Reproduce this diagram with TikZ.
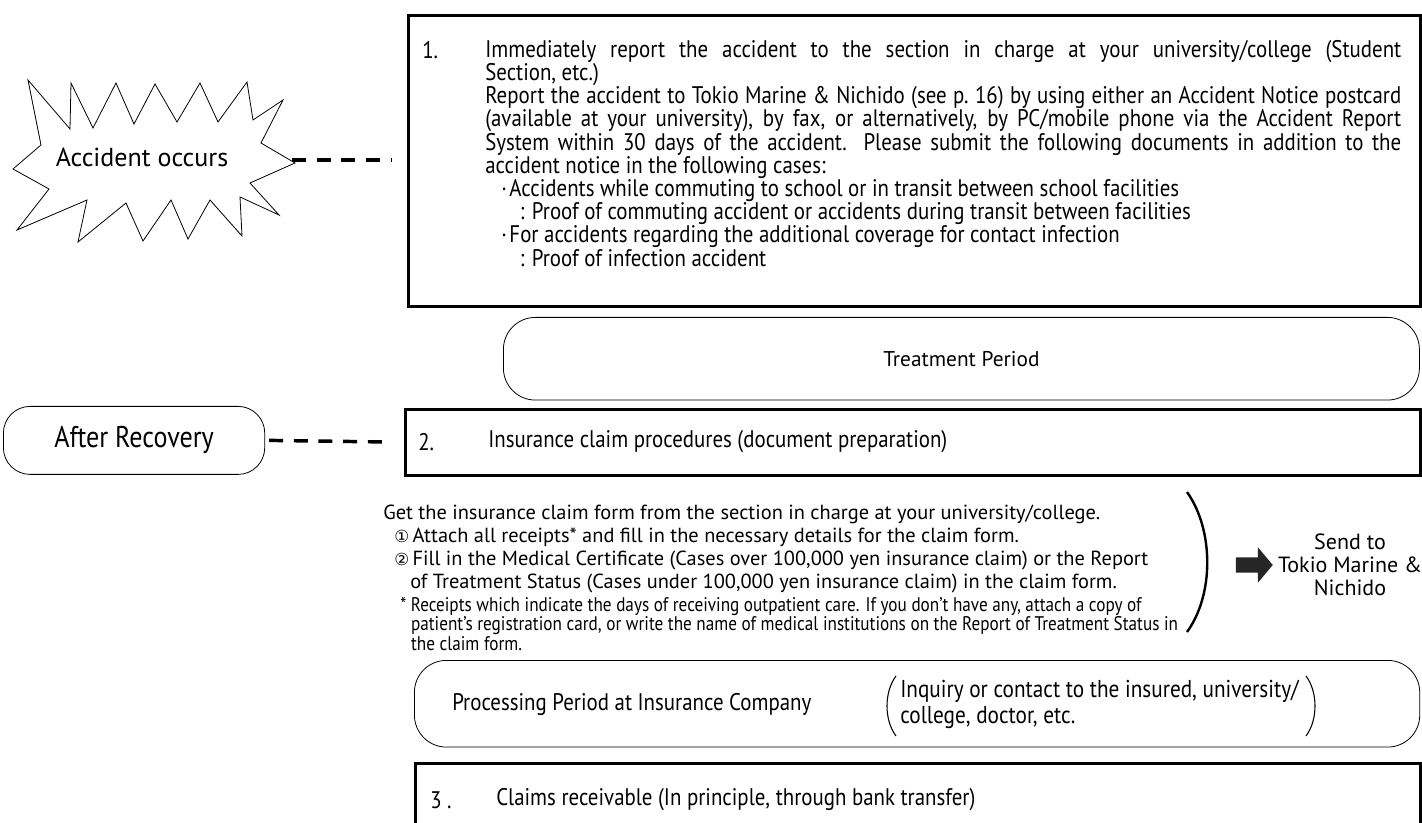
\documentclass[tikz,border=0pt]{standalone}
\usepackage{fontspec}
\setmainfont{PT Sans}
\newfontfamily\condfont[FakeStretch=0.87]{PT Sans}
\newfontfamily\symfont{DejaVu Sans}
\usetikzlibrary{positioning,shapes.arrows}

\begin{document}
\begin{tikzpicture}[x=0.75pt,y=-0.75pt]
	\tikzstyle{every node}=[inner sep=0pt]
	\tikzstyle{stepframe}=[draw,line width=2.2pt,anchor=north west]
	\tikzstyle{period}=[draw,line width=0.6pt,rounded corners=24pt,anchor=north west]
	\tikzstyle{link}=[line width=2.6pt,dash pattern=on 10.5pt off 8pt]
	\tikzstyle{cond}=[font=\condfont\fontsize{18}{17.4}\selectfont]
	\tikzstyle{plain}=[font=\fontsize{15.3}{17.25}\selectfont]
	\tikzstyle{small}=[font=\condfont\fontsize{14.8}{13.5}\selectfont]

	\useasboundingbox (0,0) rectangle (1422,823);

	% accident
	\draw[line width=0.6pt] (28,80) -- (70,129) -- (71,83) -- (93,128) -- (116,83) -- (134,124)
		-- (155,84) -- (177,122) -- (200,83) -- (218,122) -- (247,82) -- (253,120) -- (283,100)
		-- (261,143) -- (295,163) -- (250,183) -- (279,215) -- (240,197) -- (242,236) -- (210,200)
		-- (188,239) -- (171,200) -- (143,241) -- (126,203) -- (78,242) -- (87,200) -- (17,230)
		-- (49,189) -- (13,169) -- (41,145) -- cycle;
	\node (accident) [font=\fontsize{19.5}{19.5}\selectfont] at (142,157) {Accident occurs};
	\coordinate (tip) at (292,160);
	\coordinate (gap1) at (392,160);
	\draw[link] (tip) -- (gap1);

	% step 1
	\node (box1) [stepframe,minimum width=759pt,minimum height=218pt] at (407,14) {};
	\node (num1) [cond,anchor=west] at (422,50) {1.};
	\node (text1) [cond,anchor=north west,text width=687pt,align=justify] at (485,40)
		{Immediately report the accident to the section in charge at your university/college (Student\linebreak
		Section, etc.)\\
		Report the accident to Tokio Marine \& Nichido (see p.~16) by using either an Accident Notice postcard\linebreak
		(available at your university), by fax, or alternatively, by PC/mobile phone via the Accident Report\linebreak
		System within 30 days of the accident. Please submit the following documents in addition to the\linebreak
		accident notice in the following cases:\\
		\hspace*{12pt}{·}\hspace{2pt}Accidents while commuting to school or in transit between school facilities\\
		\hspace*{26pt}: Proof of commuting accident or accidents during transit between facilities\\
		\hspace*{12pt}{·}\hspace{2pt}For accidents regarding the additional coverage for contact infection\\
		\hspace*{26pt}: Proof of infection accident};

	% treatment
	\node (treat) [period,minimum width=687pt,minimum height=62pt] at (503,317) {};
	\node (treattext) [font=\fontsize{16}{16}\selectfont] at (treat.center) {Treatment Period};

	% step 2
	\node (recovery) [period,rounded corners=20pt,minimum width=196pt,minimum height=51pt] at (3,406) {};
	\node (recoverytext) [font=\condfont\fontsize{22.5}{22.5}\selectfont] at (recovery.center) {After Recovery};
	\coordinate (gap2) at (388,442);
	\draw[link] ([xshift=3pt]recovery.east) -- (gap2);
	\node (box2) [stepframe,minimum width=761pt,minimum height=49.5pt] at (404,408) {};
	\node (num2) [cond,anchor=west] at (418,442) {2.};
	\node (text2) [cond,anchor=west] at (488,442) {Insurance claim procedures (document preparation)};

	% claim form
	\node (get) [plain,anchor=west] at (383,514) {Get the insurance claim form from the section in charge at your university/college.};
	\node (item1) [plain,anchor=west] at (394,537) {{\symfont\fontsize{12.5}{12.5}\selectfont ①}\,Attach all receipts* and fill in the necessary details for the claim form.};
	\node (item2) [plain,anchor=west] at (394,560) {{\symfont\fontsize{12.5}{12.5}\selectfont ②}\,Fill in the Medical Certificate (Cases over 100,000 yen insurance claim) or the Report};
	\node (item2b) [plain,anchor=west] at (410,583) {of Treatment Status (Cases under 100,000 yen insurance claim) in the claim form.};
	\node (note) [small,anchor=north west,align=left] at (400,597)
		{* Receipts which indicate the days of receiving outpatient care. If you don’t have any, attach a copy of\\
		\hspace*{0.55em}patient’s registration card, or write the name of medical institutions on the Report of Treatment Status in\\
		\hspace*{0.55em}the claim form.};
	\draw[line width=1.8pt] (1187,492) .. controls (1214,530) and (1214,595) .. (1187,632);

	% send
	\node (send) [single arrow,fill=black!85,inner xsep=0pt,inner ysep=5.6pt,minimum height=27.75pt,single arrow head extend=7.5pt,single arrow tip angle=100] at (1251,565) {};
	\node (sendtext) [align=center,font=\fontsize{16.5}{17.25}\selectfont] at (1350,565) {Send to\\Tokio Marine \&\\Nichido};

	% processing
	\node (proc) [period,minimum width=754pt,minimum height=65pt] at (414,660) {};
	\node (proctext) [cond,anchor=west] at (452,704) {Processing Period at Insurance Company};
	\node (inquiry) [cond,anchor=west,align=left,font=\condfont\fontsize{18.3}{19.5}\selectfont] at (900,704)
		{Inquiry or contact to the insured, university/\\college, doctor, etc.};
	\draw[line width=0.8pt] (896,676) .. controls (884,692) and (884,720) .. (896,736);
	\draw[line width=0.8pt] (1306,676) .. controls (1318,692) and (1318,720) .. (1306,736);

	% step 3
	\node (box3) [stepframe,minimum width=754pt,minimum height=60pt] at (414,762) {};
	\node (num3) [cond,anchor=west] at (430,800) {3 .};
	\node (text3) [cond,anchor=west] at (496,800) {Claims receivable (In principle, through bank transfer)};
\end{tikzpicture}
\end{document}
